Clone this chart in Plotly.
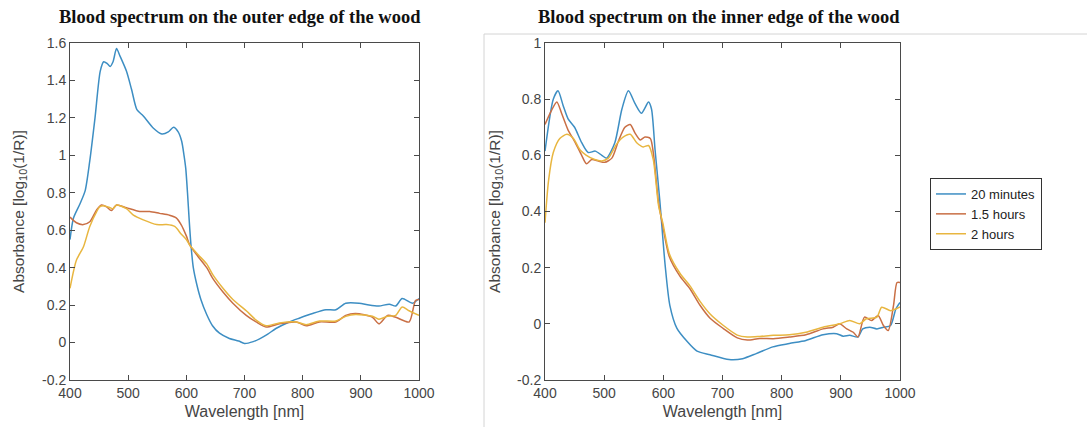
import plotly.graph_objects as go

# ---------------- data ----------------
series_names = ["20 minutes", "1.5 hours", "2 hours"]

# Outer edge of the wood (left panel)
outer_20min_wl = [400, 406, 417, 426, 434, 443, 452, 458, 464, 469, 474, 480, 486, 497, 506, 515, 526, 543,
                  558, 569, 578, 586, 592, 596, 599, 602, 605, 608, 612, 618, 625, 635, 645, 657, 674, 690,
                  700, 715, 726, 740, 754, 777, 794, 817, 840, 857, 874, 897, 914, 931, 949, 960, 971, 989, 1000]
outer_20min_abs = [0.55, 0.665, 0.74, 0.81, 0.97, 1.20, 1.45, 1.50, 1.49, 1.475, 1.50, 1.57, 1.53, 1.45, 1.35,
                   1.244, 1.21, 1.146, 1.114, 1.125, 1.15, 1.125, 1.075, 1.00, 0.93, 0.80, 0.65, 0.52, 0.40,
                   0.31, 0.23, 0.15, 0.09, 0.05, 0.022, 0.008, -0.005, 0.005, 0.02, 0.045, 0.075, 0.11, 0.13,
                   0.155, 0.175, 0.175, 0.21, 0.21, 0.20, 0.195, 0.205, 0.195, 0.235, 0.21, 0.235]

outer_15h_wl = [400, 411, 423, 434, 446, 454, 463, 471, 480, 497, 520, 537, 554, 571, 583, 591, 600, 606,
                620, 635, 646, 663, 680, 703, 720, 737, 760, 789, 806, 829, 857, 874, 891, 920, 931, 946,
                960, 983, 994, 1000]
outer_15h_abs = [0.67, 0.64, 0.63, 0.645, 0.71, 0.735, 0.725, 0.705, 0.735, 0.72, 0.70, 0.70, 0.69, 0.68,
                 0.665, 0.63, 0.57, 0.52, 0.46, 0.40, 0.34, 0.27, 0.21, 0.145, 0.11, 0.083, 0.10, 0.11,
                 0.09, 0.11, 0.11, 0.145, 0.155, 0.135, 0.10, 0.145, 0.135, 0.11, 0.225, 0.23]

outer_2h_wl = [400, 411, 423, 434, 446, 451, 460, 469, 474, 480, 497, 509, 526, 549, 566, 580, 591, 600,
               606, 620, 635, 646, 663, 680, 703, 720, 737, 760, 789, 806, 829, 857, 874, 891, 920, 931,
               946, 960, 971, 983, 1000]
outer_2h_abs = [0.29, 0.44, 0.51, 0.62, 0.70, 0.725, 0.73, 0.72, 0.715, 0.735, 0.715, 0.68, 0.655, 0.63,
                0.63, 0.62, 0.58, 0.55, 0.52, 0.47, 0.42, 0.36, 0.29, 0.23, 0.17, 0.12, 0.09, 0.105, 0.11,
                0.095, 0.115, 0.115, 0.14, 0.15, 0.14, 0.125, 0.14, 0.145, 0.19, 0.17, 0.145]

# Inner edge of the wood (right panel)
inner_20min_wl = [400, 414, 422, 431, 439, 450, 462, 473, 485, 496, 504, 518, 530, 541, 552, 563, 575, 580,
                  586, 594, 603, 611, 623, 640, 657, 679, 711, 734, 757, 785, 813, 841, 870, 893, 904, 915,
                  929, 937, 949, 961, 972, 984, 993, 1000]
inner_20min_abs = [0.615, 0.80, 0.83, 0.775, 0.73, 0.70, 0.645, 0.61, 0.615, 0.60, 0.59, 0.645, 0.765, 0.83,
                   0.785, 0.75, 0.79, 0.765, 0.62, 0.44, 0.21, 0.066, -0.016, -0.062, -0.097, -0.11, -0.127,
                   -0.124, -0.106, -0.082, -0.07, -0.059, -0.039, -0.035, -0.044, -0.041, -0.047, -0.018,
                   -0.012, -0.018, -0.012, -0.006, 0.053, 0.076]

inner_15h_wl = [400, 411, 420, 428, 439, 450, 462, 470, 479, 490, 501, 513, 524, 535, 544, 552, 561, 569,
                578, 583, 592, 599, 610, 628, 645, 662, 679, 701, 725, 742, 763, 786, 813, 841, 870, 887,
                898, 910, 921, 929, 940, 952, 963, 972, 980, 989, 995, 1000]
inner_15h_abs = [0.71, 0.76, 0.79, 0.75, 0.69, 0.65, 0.60, 0.57, 0.585, 0.58, 0.575, 0.59, 0.65, 0.70, 0.71,
                 0.68, 0.655, 0.665, 0.66, 0.61, 0.43, 0.35, 0.24, 0.17, 0.125, 0.066, 0.02, -0.016, -0.05,
                 -0.058, -0.052, -0.053, -0.047, -0.039, -0.018, -0.012, 0.0, -0.018, -0.03, -0.047, 0.024,
                 0.012, 0.03, -0.006, -0.024, 0.065, 0.147, 0.147]

inner_2h_wl = [400, 406, 414, 425, 437, 448, 459, 470, 484, 496, 507, 521, 532, 544, 555, 566, 575, 583,
               592, 599, 610, 628, 645, 662, 679, 701, 725, 742, 763, 786, 813, 841, 870, 898, 915, 932,
               943, 961, 969, 984, 993, 1000]
inner_2h_abs = [0.36, 0.51, 0.61, 0.66, 0.675, 0.66, 0.62, 0.60, 0.585, 0.58, 0.59, 0.64, 0.665, 0.675,
                0.645, 0.63, 0.635, 0.585, 0.42, 0.36, 0.25, 0.18, 0.135, 0.08, 0.035, -0.005, -0.04, -0.047,
                -0.045, -0.041, -0.039, -0.03, -0.012, 0.0, 0.012, 0.0, 0.018, 0.024, 0.059, 0.047, 0.053,
                0.06]

x_tick_vals = [400, 500, 600, 700, 800, 900, 1000]
x_tick_text = ["400", "500", "600", "700", "800", "900", "1000"]
left_y_tick_vals = [-0.2, 0, 0.2, 0.4, 0.6, 0.8, 1.0, 1.2, 1.4, 1.6]
left_y_tick_text = ["-0.2", "0", "0.2", "0.4", "0.6", "0.8", "1", "1.2", "1.4", "1.6"]
right_y_tick_vals = [-0.2, 0, 0.2, 0.4, 0.6, 0.8, 1.0]
right_y_tick_text = ["-0.2", "0", "0.2", "0.4", "0.6", "0.8", "1"]

titles = ["Blood spectrum on the outer edge of the wood",
          "Blood spectrum on the inner edge of the wood"]
x_title = "Wavelength [nm]"
y_title = "Absorbance [log<sub>10</sub>(1/R)]"

# ---------------- style ----------------
colors = ["#3d8ec3", "#c96f45", "#e8b640"]
W, H = 1087, 427
TXT = "#454545"
AX = "#4a4a4a"
SANS = "Liberation Sans, Arial"

fig = go.Figure()

left = [(outer_20min_wl, outer_20min_abs), (outer_15h_wl, outer_15h_abs), (outer_2h_wl, outer_2h_abs)]
right = [(inner_20min_wl, inner_20min_abs), (inner_15h_wl, inner_15h_abs), (inner_2h_wl, inner_2h_abs)]

for i, (wl, ab) in enumerate(left):
    fig.add_trace(go.Scatter(x=wl, y=ab, mode="lines", name=series_names[i], showlegend=False,
                             line=dict(color=colors[i], width=1.5, shape="spline", smoothing=0.7),
                             xaxis="x", yaxis="y"))
for i, (wl, ab) in enumerate(right):
    fig.add_trace(go.Scatter(x=wl, y=ab, mode="lines", name=series_names[i], showlegend=True,
                             line=dict(color=colors[i], width=1.5, shape="spline", smoothing=0.7),
                             xaxis="x2", yaxis="y2"))

def px_x(p):
    return p / W

def px_y(p):
    return 1 - p / H

axis_common = dict(showline=True, linecolor=AX, linewidth=1, mirror="ticks", ticks="inside",
                   ticklen=5, tickcolor=AX, showgrid=False, zeroline=False, automargin=False,
                   tickfont=dict(family=SANS, size=14, color=TXT))
xtitle_font = dict(family=SANS, size=16, color=TXT)
ytitle_font = dict(family=SANS, size=15.5, color=TXT)

fig.update_layout(
    width=W, height=H,
    margin=dict(l=0, r=0, t=0, b=0),
    paper_bgcolor="white", plot_bgcolor="white",
    xaxis=dict(domain=[px_x(70), px_x(419)], range=[400, 1000], tickvals=x_tick_vals,
               ticktext=x_tick_text, anchor="y",
               title=dict(text=x_title, standoff=6, font=xtitle_font),
               **axis_common),
    yaxis=dict(domain=[px_y(380), px_y(43)], range=[-0.2, 1.6], tickvals=left_y_tick_vals,
               ticktext=left_y_tick_text, anchor="x",
               title=dict(text=y_title, standoff=13, font=ytitle_font),
               **axis_common),
    xaxis2=dict(domain=[px_x(545), px_x(900)], range=[400, 1000], tickvals=x_tick_vals,
                ticktext=x_tick_text, anchor="y2",
                title=dict(text=x_title, standoff=6, font=xtitle_font),
                **axis_common),
    yaxis2=dict(domain=[px_y(380), px_y(43)], range=[-0.2, 1.0], tickvals=right_y_tick_vals,
                ticktext=right_y_tick_text, anchor="x2",
                title=dict(text=y_title, standoff=12, font=ytitle_font),
                **axis_common),
    legend=dict(x=px_x(930), y=px_y(178), xanchor="left", yanchor="top",
                bordercolor="#333333", borderwidth=1, bgcolor="white",
                font=dict(family=SANS, size=13, color="#222222"),
                tracegroupgap=0, itemwidth=30),
    annotations=[
        dict(text="<b>" + titles[0] + "</b>", x=px_x(240), y=px_y(17), xref="paper", yref="paper",
             xanchor="center", yanchor="middle", showarrow=False,
             font=dict(family="Liberation Serif, Times New Roman", size=18.5, color="#111111")),
        dict(text="<b>" + titles[1] + "</b>", x=px_x(719), y=px_y(17), xref="paper", yref="paper",
             xanchor="center", yanchor="middle", showarrow=False,
             font=dict(family="Liberation Serif, Times New Roman", size=18.5, color="#111111")),
    ],
    shapes=[
        dict(type="line", xref="paper", yref="paper", x0=px_x(484), x1=1, y0=px_y(34), y1=px_y(34),
             line=dict(color="#d4d4d4", width=1)),
        dict(type="line", xref="paper", yref="paper", x0=px_x(484), x1=px_x(484), y0=px_y(34), y1=0,
             line=dict(color="#d4d4d4", width=1)),
    ],
)

fig.write_html("out.html")
